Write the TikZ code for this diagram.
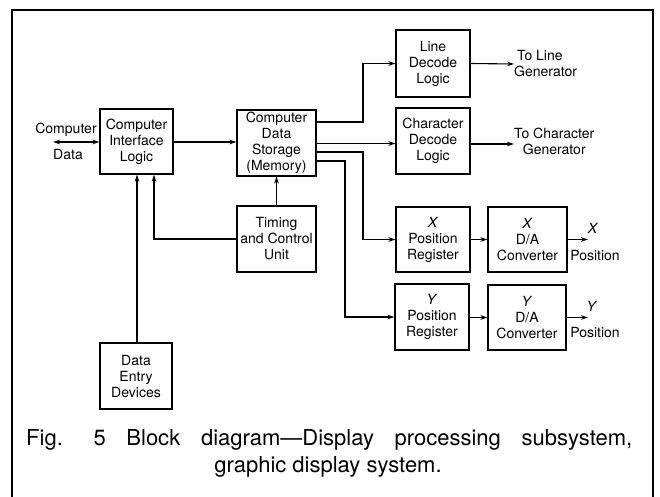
\documentclass[tikz,border=0pt]{standalone}
\usepackage{fontspec}
\setmainfont{TeX Gyre Heros}
\usetikzlibrary{arrows.meta}
\frenchspacing
\begin{document}
\begin{tikzpicture}[x=1pt,y=-1pt,
  blk/.style={draw,line width=1.1pt,inner sep=0pt,align=center,font=\fontsize{14}{16}\selectfont},
  lbl/.style={inner sep=0pt,font=\fontsize{14}{16}\selectfont},
  arr/.style={line width=1.1pt,-{Stealth[length=7pt,width=4.5pt]}},
  ln/.style={line width=1.1pt}]
\useasboundingbox (0,0) rectangle (660,497);
\draw[line width=2.6pt] (12,499) -- (12,10) -- (653,10) -- (653,499);
% boxes
\node[blk,minimum width=73pt,minimum height=65pt] (cil) at (136.5,141.5) {Computer\\Interface\\Logic};
\node[blk,minimum width=79pt,minimum height=66pt] (cds) at (276.5,143) {Computer\\Data\\Storage\\(Memory)};
\node[blk,minimum width=79pt,minimum height=66pt] (tcu) at (276.5,239) {Timing\\and Control\\Unit};
\node[blk,minimum width=72pt,minimum height=66pt] (ded) at (136,376) {Data\\Entry\\Devices};
\node[blk,minimum width=74pt,minimum height=67pt] (ldl) at (433,63.5) {Line\\Decode\\Logic};
\node[blk,minimum width=74pt,minimum height=66pt] (cdl) at (433,141) {Character\\Decode\\Logic};
\node[blk,minimum width=74pt,minimum height=65pt] (xpr) at (433,239.5) {\textit{X}\\Position\\Register};
\node[blk,minimum width=79pt,minimum height=65pt] (xda) at (527.5,239.5) {\textit{X}\\D/A\\Converter};
\node[blk,minimum width=74pt,minimum height=66pt] (ypr) at (432,317) {\textit{Y}\\Position\\Register};
\node[blk,minimum width=78pt,minimum height=65pt] (yda) at (527,317.5) {\textit{Y}\\D/A\\Converter};
% labels
\node[lbl] (cdt1) at (66,130) {Computer};
\node[lbl] (cdt2) at (68,155) {Data};
\coordinate (cdl0) at (53,142);
\node[lbl,align=left,anchor=west] (tlg) at (514,64) {\hspace{3pt}To Line\\Generator};
\node[lbl,align=center,anchor=west] (tcg) at (514,141) {To Character\\Generator};
\coordinate (xo) at (588,239.5);
\coordinate (yo) at (588,317.5);
\node[lbl] (xl) at (593,228) {\textit{X}};
\node[lbl] (xp) at (595,255) {Position};
\node[lbl] (yl) at (592,306) {\textit{Y}};
\node[lbl] (yp) at (595,332) {Position};
% connectors
\draw[line width=1.1pt,{Stealth[length=7pt,width=4.5pt]}-{Stealth[length=7pt,width=4.5pt]}] (cdl0) -- (cil.west |- cdl0);
\draw[arr] (cil.east |- 0,142) -- (cds.west |- 0,142);
\draw[arr] ([xshift=1pt]ded.north) -- ([xshift=1pt]ded.north |- cil.south);
\draw[arr] (tcu.west) -| ([xshift=17.5pt]cil.south);
\draw[arr] (tcu.north) -- (cds.south);
\draw[arr] (cds.east |- 0,122) -- (363,122) |- (ldl.west);
\draw[arr] (cds.east |- 0,143.5) -- (cdl.west |- 0,143.5);
\draw[arr] (cds.east |- 0,152) -- (363,152) |- (xpr.west);
\draw[arr] (cds.east |- 0,161) -- (345,161) |- (ypr.west);
\draw[arr] (ldl.east) -- (tlg.west);
\draw[arr] (cdl.east |- 0,144) -- (tcg.west |- 0,144);
\draw[arr] (xpr.east) -- (xda.west);
\draw[arr] (xda.east) -- (xo);
\draw[arr] (ypr.east |- yda.west) -- (yda.west);
\draw[arr] (yda.east) -- (yo);
% caption
\node[inner sep=0pt,anchor=base west,font=\fontsize{22}{26}\selectfont] (cap1) at (26,445) {\makebox[606pt][s]{Fig.\hspace{10pt} 5 Block diagram—Display processing subsystem,}};
\node[inner sep=0pt,anchor=base,font=\fontsize{22}{26}\selectfont] (cap2) at (328,472) {graphic display system.};
\end{tikzpicture}
\end{document}
